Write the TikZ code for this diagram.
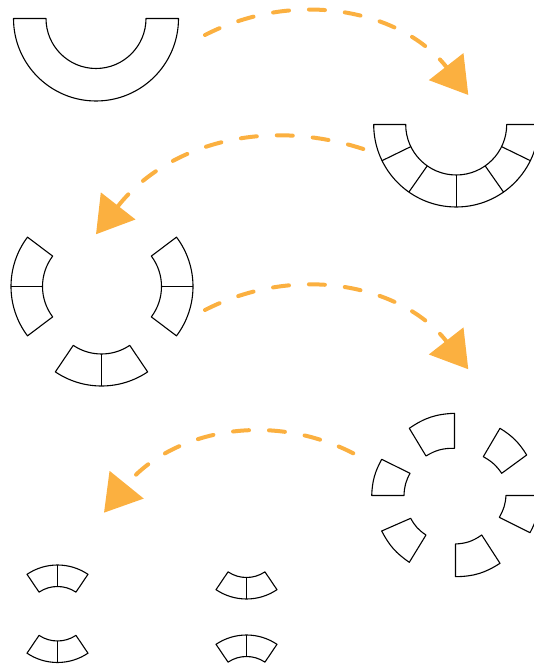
\documentclass[tikz,border=0pt]{standalone}
\usetikzlibrary{arrows.meta}

\definecolor{flowcol}{RGB}{251,176,64}

% ring piece: centre, start angle, end angle, inner radius, outer radius
\newcommand{\ringpart}[5]{%
  \draw[shift={(#1)}] (#2:#5) arc[start angle=#2, end angle=#3, radius=#5]
    -- (#3:#4) arc[start angle=#3, end angle=#2, radius=#4] -- cycle;}
% radial cut: centre, angle, inner radius, outer radius
\newcommand{\cutline}[4]{\draw[shift={(#1)}] (#2:#3) -- (#2:#4);}
% loose piece from its corners: outer, outer, inner, inner, bend
\newcommand{\chip}[5]{%
  \draw (#1) to[bend left=#5] (#2) -- (#3) to[bend right=#5] (#4) -- cycle;}

\begin{document}
\begin{tikzpicture}[x=1pt, y=1pt, line width=1.1pt, line join=round,
  flow/.style={draw=flowcol, line width=4pt, line cap=round,
    dash pattern=on 16pt off 20pt,
    -{Triangle[length=36pt, width=43pt]}}]
  \useasboundingbox (0,0) rectangle (534,665);
  \clip (0,0) rectangle (534,665);

  % Whole half ring
  \ringpart{96,646.5}{0}{-180}{50}{82.5}

  % Half ring cut in six
  \ringpart{456.2,540.5}{0}{-180}{50.5}{82.5}
  \foreach \a in {-26,-55,-90,-125,-154}
    {\cutline{456.2,540.5}{\a}{50.5}{82.5}}

  % Three pieces of two
  \ringpart{93,378.5}{143}{217}{50.5}{82}
  \cutline{93,378.5}{180}{50.5}{82}
  \ringpart{111,378.5}{-37}{37}{50.5}{82}
  \cutline{111,378.5}{0}{50.5}{82}
  \ringpart{101.5,361.5}{-124}{-56}{50.5}{82.5}
  \cutline{101.5,361.5}{-90}{50.5}{82.5}

  % Six single pieces round a circle
  \chip{409.3,236.7}{454.5,251.7}{454.5,216.7}{426,209}{16}
  \chip{500,236.7}{526.7,210}{501.7,191.7}{483.3,208.3}{13}
  \chip{540,169.5}{530,132.3}{499.3,147.7}{506,169.5}{13}
  \chip{500,101.7}{455.5,88.3}{455.5,121}{481.7,130}{16}
  \chip{409.3,102.7}{381.7,134}{410.7,146.7}{426,130}{14}
  \chip{371.7,169.5}{381.7,205.7}{410,191.7}{404,169.5}{13}

  % Four small pieces of two
  \ringpart{57.5,45.5}{56}{124}{33}{54.5}
  \cutline{57.5,45.5}{90}{33}{54.5}
  \ringpart{57.5,57}{-124}{-56}{33}{54.5}
  \cutline{57.5,57}{-90}{33}{54.5}
  \ringpart{246.5,120.5}{-124}{-56}{33}{54.5}
  \cutline{246.5,120.5}{-90}{33}{54.5}
  \ringpart{246.5,-24.5}{56}{124}{33}{54.5}
  \cutline{246.5,-24.5}{90}{33}{54.5}

  % Arrows
  \coordinate (a1s) at (205,630);
  \coordinate (a1e) at (468.3,570);
  \draw[flow] (a1s) to[out=27, in=128] (a1e);

  \coordinate (a2s) at (363.3,516);
  \coordinate (a2e) at (96,430.7);
  \draw[flow] (a2s) to[out=162, in=52] (a2e);

  \coordinate (a3s) at (205,355);
  \coordinate (a3e) at (468.3,295.7);
  \draw[flow] (a3s) to[out=27, in=128] (a3e);

  \coordinate (a4s) at (353.3,211.7);
  \coordinate (a4e) at (104,152.3);
  \draw[flow] (a4s) to[out=153, in=51] (a4e);

\end{tikzpicture}
\end{document}
